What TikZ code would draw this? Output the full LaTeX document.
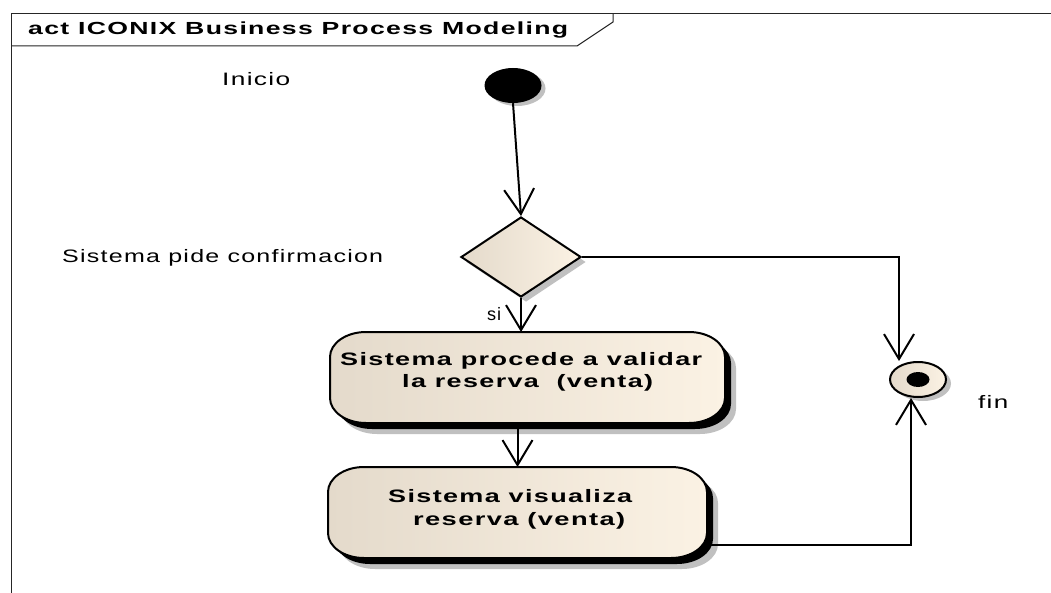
\documentclass[tikz,border=0pt]{standalone}
\usepackage{fontspec}
\setmainfont{Liberation Sans}
\usepackage{graphicx}
\usetikzlibrary{arrows.meta,shapes.geometric,shadows}
\definecolor{bgl}{RGB}{228,218,203}
\definecolor{bgr}{RGB}{251,242,228}
\definecolor{shd}{RGB}{192,192,192}
\newcommand\stt[2]{\resizebox{#1pt}{\height}{\addfontfeature{LetterSpace=5}#2}}
\tikzset{
  rr/.style n args={4}{insert path={({#1+36},{-#2}) -- ({#3-36},{-#2})
     arc[start angle=90,end angle=0,x radius=36,y radius=25] -- ({#3},{-#4+25})
     arc[start angle=0,end angle=-90,x radius=36,y radius=25] -- ({#1+36},{-#4})
     arc[start angle=270,end angle=180,x radius=36,y radius=25] -- ({#1},{-#2-25})
     arc[start angle=180,end angle=90,x radius=36,y radius=25] -- cycle}},
  shd/.style={drop shadow={shadow xshift=5pt,shadow yshift=-5pt,fill=shd,opacity=1}},
  arr/.style={draw,line width=2pt,-{Straight Barb[length=25pt,width=30pt]}},
  txt/.style={inner sep=0,anchor=base west,font=\fontsize{18}{21}\selectfont},
  btxt/.style={inner sep=0,anchor=base west,font=\fontsize{18}{21}\selectfont\bfseries},
  frame/.style={line width=1pt,black!85},
  anch/.style={inner sep=0,outer sep=0}
}
\begin{document}
\begin{tikzpicture}[x=1pt,y=1pt]
\fill[white] (0,0) rectangle (1051,-593);
\useasboundingbox (0,0) rectangle (1051,-593);
% frame
\draw[frame] (11.5,-593) -- (11.5,-13.5) -- (1051,-13.5);
\draw[frame] (11.5,-46) -- (577,-46) -- (613,-22) -- (613,-13.5);
\node[txt,font=\fontsize{17.5}{20}\selectfont\bfseries] (ttl) at (28,-35) {\stt{540}{act ICONIX Business Process Modeling}};
% activity boxes (shapes)
\fill[shd,xshift=6,yshift=-6,rr={330}{332}{725}{423}];
\path[draw,line width=2pt,left color=bgl,right color=bgr,rr={330}{332}{725}{423}];
\fill[shd,xshift=6,yshift=-6,rr={328}{467}{707}{558}];
\path[draw,line width=2pt,left color=bgl,right color=bgr,rr={328}{467}{707}{558}];
\node[anch,minimum width=395,minimum height=91] (b1) at (527.5,-377.5) {};
\node[anch,minimum width=379,minimum height=91] (b2) at (517.5,-512.5) {};
% nodes
\node[ellipse,fill=black,minimum width=57,minimum height=35,inner sep=0,
      drop shadow={shadow xshift=4pt,shadow yshift=-3pt,fill=shd,opacity=1}] (start) at (513,-85.5) {};
\node[diamond,draw,line width=2pt,left color=bgl,right color=bgr,minimum width=120,minimum height=80,inner sep=0,shd] (dec) at (521,-257) {};
\node[ellipse,draw,line width=2pt,left color=bgl,right color=bgr,minimum width=56,minimum height=35,inner sep=0,
      drop shadow={shadow xshift=5pt,shadow yshift=-4pt,fill=shd,opacity=1}] (fin) at (918,-379.5) {};
\node[ellipse,fill=black,minimum width=23,minimum height=15,inner sep=0] (findot) at (fin.center) {};
% texts
\node[txt] (inicio) at (222,-85.5) {\stt{68}{Inicio}};
\node[txt] (pide) at (62,-263) {\stt{321}{Sistema pide confirmacion}};
\node[txt] (si) at (487,-320) {\stt{14}{si}};
\node[txt] (fintxt) at (978,-408) {\stt{30}{fin}};
\node[btxt] (b1a) at (340,-365) {\stt{362}{Sistema procede a validar}};
\node[btxt] (b1b) at (402,-387) {\stt{251}{la reserva\ \ (venta)}};
\node[btxt] (b2a) at (388,-502) {\stt{244}{Sistema visualiza}};
\node[btxt] (b2b) at (413,-525) {\stt{212}{reserva (venta)}};
% connectors
\draw[arr] (start.south) -- (dec.north);
\draw[arr] (dec.south) -- (dec.south |- b1.north);
\draw[arr] (b2.north |- b1.south) -- (b2.north);
\draw[arr] (dec.east) -| ([xshift=-19pt]fin.north);
\draw[arr] ([yshift=-32pt]b2.east) -| ([xshift=-7pt]fin.south);
\end{tikzpicture}
\end{document}
